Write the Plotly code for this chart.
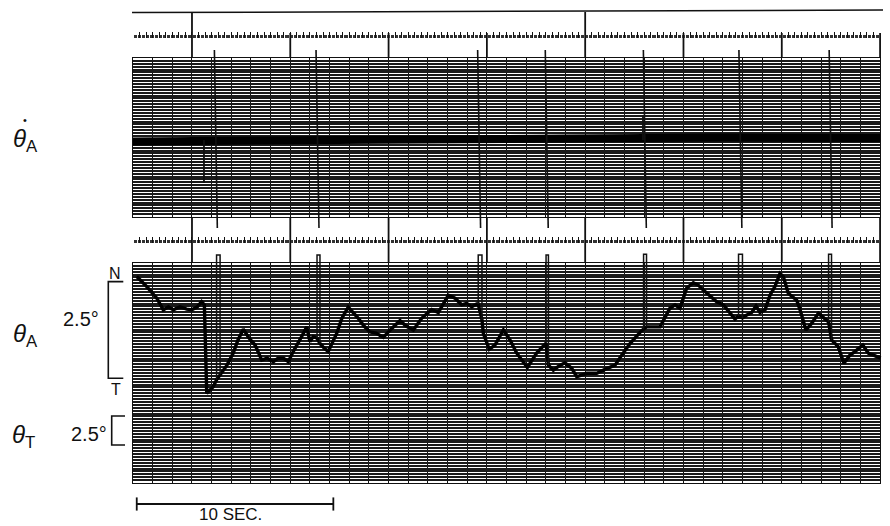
import plotly.graph_objects as go

W, H = 890, 526

# ---------------- data ----------------
# time in seconds (1 chart division = 1 s), angles in degrees
t_grid_end = 38
rows_top = 55
rows_bottom = 76

# theta_A pen trace (deg, 0 = "T" mark, 2.5 = "N" mark)
t_theta_A = [0.19, 0.70, 1.21, 1.54, 1.80, 2.05, 2.39, 2.73, 2.99, 3.26, 3.49, 3.63, 3.75, 4.08, 4.25,
             4.43, 4.51, 4.78, 5.10, 5.34, 5.61, 5.90, 6.21, 6.55, 6.82, 7.14, 7.38, 7.65, 7.90, 8.15, 8.58, 8.84, 9.00, 9.17, 9.36,
             9.51, 9.72, 9.93, 10.36, 10.63, 10.95, 11.46, 11.75, 12.05, 12.36, 12.73, 13.16, 13.58, 13.89, 14.26, 14.68, 15.19, 15.53, 16.04, 16.38, 16.72, 16.97, 17.23, 17.48, 17.56,
             17.75, 17.82, 18.12, 18.41, 18.84, 19.18, 19.52, 20.06, 20.53, 20.96, 21.01,
             21.13, 21.38, 21.67, 21.97, 22.31, 22.57, 23.08, 23.59, 24.01, 24.52, 24.86, 25.28, 25.87, 25.97,
             26.12, 26.46, 26.81, 27.31, 27.57, 27.82, 28.16, 28.50, 28.75, 29.01, 29.35, 29.69, 30.03, 30.62, 30.80,
             31.00, 31.13, 31.47, 31.69, 31.89, 32.15, 32.40, 32.65, 32.91, 33.08, 33.33, 33.76, 33.93, 34.23, 34.52, 34.86, 35.20, 35.38,
             35.53, 35.87, 36.16, 36.47, 36.72, 37.12, 37.40, 37.66, 38.03]
theta_A = [2.63, 2.37, 2.07, 1.77, 1.85, 1.77, 1.85, 1.79, 1.77, 1.84, 1.98, 1.90, -0.39, -0.22, -0.04,
           0.09, 0.13, 0.34, 0.65, 0.99, 1.27, 1.04, 0.86, 0.47, 0.52, 0.43, 0.52, 0.52, 0.43, 0.69, 1.08, 1.33, 0.95, 1.08, 1.04,
           0.90, 0.78, 0.69, 1.16, 1.56, 1.84, 1.55, 1.35, 1.20, 1.17, 1.06, 1.29, 1.49, 1.35, 1.25, 1.55, 1.78, 1.70, 2.15, 2.07, 1.90, 1.94, 1.85, 1.92, 1.92,
           1.51, 1.16, 0.75, 0.86, 1.25, 0.99, 0.65, 0.28, 0.65, 0.90, 0.91,
           0.34, 0.21, 0.32, 0.40, 0.26, 0.04, 0.13, 0.13, 0.23, 0.34, 0.60, 0.90, 1.23, 1.27,
           1.33, 1.33, 1.33, 1.81, 1.90, 1.81, 2.33, 2.47, 2.41, 2.28, 2.13, 1.98, 1.90, 1.53, 1.61,
           1.56, 1.61, 1.70, 1.87, 1.70, 1.77, 2.15, 2.37, 2.71, 2.63, 2.20, 2.02, 1.77, 1.25, 1.42, 1.68, 1.55, 1.46,
           0.99, 0.82, 0.39, 0.60, 0.69, 0.86, 0.65, 0.60, 0.52]

# event loops written on the theta_A channel
spike_t_start = [4.25, 9.36, 17.56, 21.01, 25.97, 30.80, 35.38]
spike_t_end = [4.43, 9.51, 17.75, 21.13, 26.12, 31.00, 35.53]
spike_base_start = [-0.04, 1.04, 1.92, 0.91, 1.27, 1.61, 1.46]
spike_base_end = [0.09, 0.90, 1.51, 0.34, 1.33, 1.56, 0.99]
spike_top = [3.19, 3.19, 3.19, 3.19, 3.21, 3.21, 3.21]

# theta-dot_A channel (pen units, 0 = baseline)
t_rate = [0.0, 4.0, 9.0, 15.0, 18.0, 22.0, 30.0, 38.0]
theta_dot_A = [-0.07, -0.06, -0.02, 0.0, 0.05, 0.07, 0.12, 0.10]
rate_spike_t = [3.61, 25.94]
rate_spike_peak = [-2.15, 1.25]

# event marker lines across the theta-dot channel
event_t = [4.14, 9.31, 17.53, 20.97, 25.96, 30.82, 35.41]
event_drift = 0.15

# 5-second timing marks
timing_marks = [3, 8, 13, 18, 23, 28, 33, 38]
long_marks = [3, 23]

# top marker pen line
marker_t = [-0.05, 38.15]
marker_level = [6.37, 6.50]

scale_deg = 2.5
scale_seconds = 10

# ---------------- layout helpers (pixel geometry of the sheet) ----------------
X0, PXS = 133, 19.66


def t_px(px):
    return (px - X0) / PXS


def degA_px(p):
    return (378.3 - p) / 38.68


def rate_px(p):
    return (140 - p) / 20.0


def degT_px(p):
    return (445 - p) / 11.6


def py(p):
    return 1 - p / H


dom_x = [X0 / W, (X0 + t_grid_end * PXS) / W]
INK = "#111111"

fig = go.Figure()

# dummy traces so every sheet subplot is drawn
for xa, ya in [("x", "y"), ("x2", "y2"), ("x4", "y6"), ("x5", "y7")]:
    fig.add_trace(go.Scatter(x=[0, t_grid_end], y=[0, 0], xaxis=xa, yaxis=ya, mode="lines",
                             line=dict(width=0, color="rgba(0,0,0,0)"), hoverinfo="skip", showlegend=False))

# marker line at top
fig.add_trace(go.Scatter(x=marker_t, y=marker_level, xaxis="x3", yaxis="y4", mode="lines",
                         line=dict(color=INK, width=1.5), showlegend=False, hoverinfo="skip"))

# timing marks
mx, my = [], []
for m in timing_marks:
    top = 12 if m in long_marks else 33
    mx += [m, m, None, m, m, None]
    my += [rate_px(top), rate_px(58), None, rate_px(217), rate_px(263), None]
fig.add_trace(go.Scatter(x=mx, y=my, xaxis="x3", yaxis="y4", mode="lines",
                         line=dict(color=INK, width=1.8), showlegend=False, hoverinfo="skip"))

# theta-dot band
fig.add_trace(go.Scatter(x=t_rate, y=theta_dot_A, xaxis="x3", yaxis="y4", mode="lines",
                         line=dict(color="#000000", width=8), showlegend=False, name="θ̇A"))
rx, ry = [], []
for tt, pk in zip(rate_spike_t, rate_spike_peak):
    rx += [tt, tt, None]
    ry += [0, pk, None]
fig.add_trace(go.Scatter(x=rx, y=ry, xaxis="x3", yaxis="y4", mode="lines",
                         line=dict(color=INK, width=1.8), showlegend=False, hoverinfo="skip"))

# event lines
ex, ey = [], []
for e in event_t:
    ex += [e, e + event_drift, None]
    ey += [rate_px(50), rate_px(228), None]
fig.add_trace(go.Scatter(x=ex, y=ey, xaxis="x3", yaxis="y4", mode="lines",
                         line=dict(color=INK, width=1.6), showlegend=False, hoverinfo="skip"))

# theta_A trace
fig.add_trace(go.Scatter(x=t_theta_A, y=theta_A, xaxis="x3", yaxis="y3", mode="lines",
                         line=dict(color="#000000", width=3.4), showlegend=False, name="θA"))
sx, sy = [], []
for ts, te, bs, be, tp in zip(spike_t_start, spike_t_end, spike_base_start, spike_base_end, spike_top):
    sx += [ts, ts, te, te, None]
    sy += [bs, tp, tp, be, None]
fig.add_trace(go.Scatter(x=sx, y=sy, xaxis="x3", yaxis="y3", mode="lines",
                         line=dict(color=INK, width=1.5), showlegend=False, hoverinfo="skip"))

# scale brackets
bxA = [t_px(123.3), t_px(108.3), t_px(108.3), t_px(123.3)]
fig.add_trace(go.Scatter(x=bxA, y=[scale_deg, scale_deg, 0, 0], xaxis="x3", yaxis="y3", mode="lines",
                         line=dict(color=INK, width=1.6), showlegend=False, hoverinfo="skip"))
bxT = [t_px(125), t_px(111.7), t_px(111.7), t_px(125)]
fig.add_trace(go.Scatter(x=bxT, y=[scale_deg, scale_deg, 0, 0], xaxis="x3", yaxis="y5", mode="lines",
                         line=dict(color=INK, width=1.6), showlegend=False, hoverinfo="skip"))

# 10 s bar
t_bar0 = 0.19
ybar = degA_px(504)
cap = 0.17
fig.add_trace(go.Scatter(
    x=[t_bar0, t_bar0 + scale_seconds, None, t_bar0, t_bar0, None, t_bar0 + scale_seconds, t_bar0 + scale_seconds],
    y=[ybar, ybar, None, ybar - cap, ybar + cap, None, ybar - cap, ybar + cap],
    xaxis="x3", yaxis="y3", mode="lines", line=dict(color=INK, width=1.8),
    showlegend=False, hoverinfo="skip"))

hidden = dict(visible=False, showgrid=False, zeroline=False)
sheet_x = dict(domain=dom_x, range=[0, t_grid_end], dtick=1, tick0=0, showgrid=True,
               gridcolor=INK, gridwidth=1.2, showticklabels=False, ticks="", zeroline=False,
               showline=True, mirror=True, linecolor=INK, linewidth=1.3)
sheet_y = dict(dtick=1, tick0=0, showgrid=True, gridcolor="#1a1a1a", gridwidth=1.7,
               showticklabels=False, ticks="", zeroline=False,
               showline=True, mirror=True, linecolor=INK, linewidth=1.3)
strip_x = dict(domain=dom_x, range=[0, t_grid_end], dtick=1 / 3, tick0=0, ticks="inside",
               ticklen=6, tickwidth=1, tickcolor=INK, showticklabels=False, showgrid=False,
               zeroline=False, showline=False,
               minor=dict(dtick=1 / 15, ticks="inside", ticklen=3, tickwidth=1, tickcolor="#333333",
                          showgrid=False))

fig.update_layout(
    width=W, height=H, margin=dict(l=0, r=0, t=0, b=0),
    paper_bgcolor="white", plot_bgcolor="rgba(0,0,0,0)",
    showlegend=False,
    xaxis=dict(sheet_x, anchor="y"),
    yaxis=dict(sheet_y, domain=[py(217), py(58)], range=[0, rows_top], anchor="x"),
    xaxis2=dict(sheet_x, anchor="y2"),
    yaxis2=dict(sheet_y, domain=[py(483), py(263)], range=[0, rows_bottom], anchor="x2"),
    xaxis3=dict(hidden, domain=[0, 1], range=[t_px(0), t_px(W)], anchor="y3"),
    yaxis3=dict(hidden, domain=[0, 1], range=[degA_px(H), degA_px(0)], anchor="x3"),
    yaxis4=dict(hidden, overlaying="y3", range=[rate_px(H), rate_px(0)], anchor="x3"),
    yaxis5=dict(hidden, overlaying="y3", range=[degT_px(H), degT_px(0)], anchor="x3"),
    xaxis4=dict(strip_x, anchor="y6"),
    yaxis6=dict(hidden, domain=[py(38), py(30)], range=[0, 1], anchor="x4"),
    xaxis5=dict(strip_x, anchor="y7"),
    yaxis7=dict(hidden, domain=[py(243), py(235)], range=[0, 1], anchor="x5"),
)

FONT = "Liberation Sans"


def label(text, x, y, size, xanchor="center", yanchor="middle"):
    fig.add_annotation(text=text, x=x / W, y=py(y), xref="paper", yref="paper",
                       showarrow=False, xanchor=xanchor, yanchor=yanchor,
                       font=dict(family=FONT, size=size, color=INK))


label("<i>θ</i><sub>A</sub>", 11, 140, 24, xanchor="left")
label("•", 25, 120, 11)
label("<i>θ</i><sub>A</sub>", 11, 335, 24, xanchor="left")
label("<i>θ</i><sub>T</sub>", 10, 436, 24, xanchor="left")
label("2.5°", 81, 319, 20)
label("2.5°", 89, 434, 20)
label("N", 115, 273, 16)
label("T", 116, 389, 16)
label("10 SEC.", 230, 514, 17)

fig.write_html("out.html", config={"displayModeBar": False},
               post_script="document.body.style.margin='0px';document.body.style.overflow='hidden';")
